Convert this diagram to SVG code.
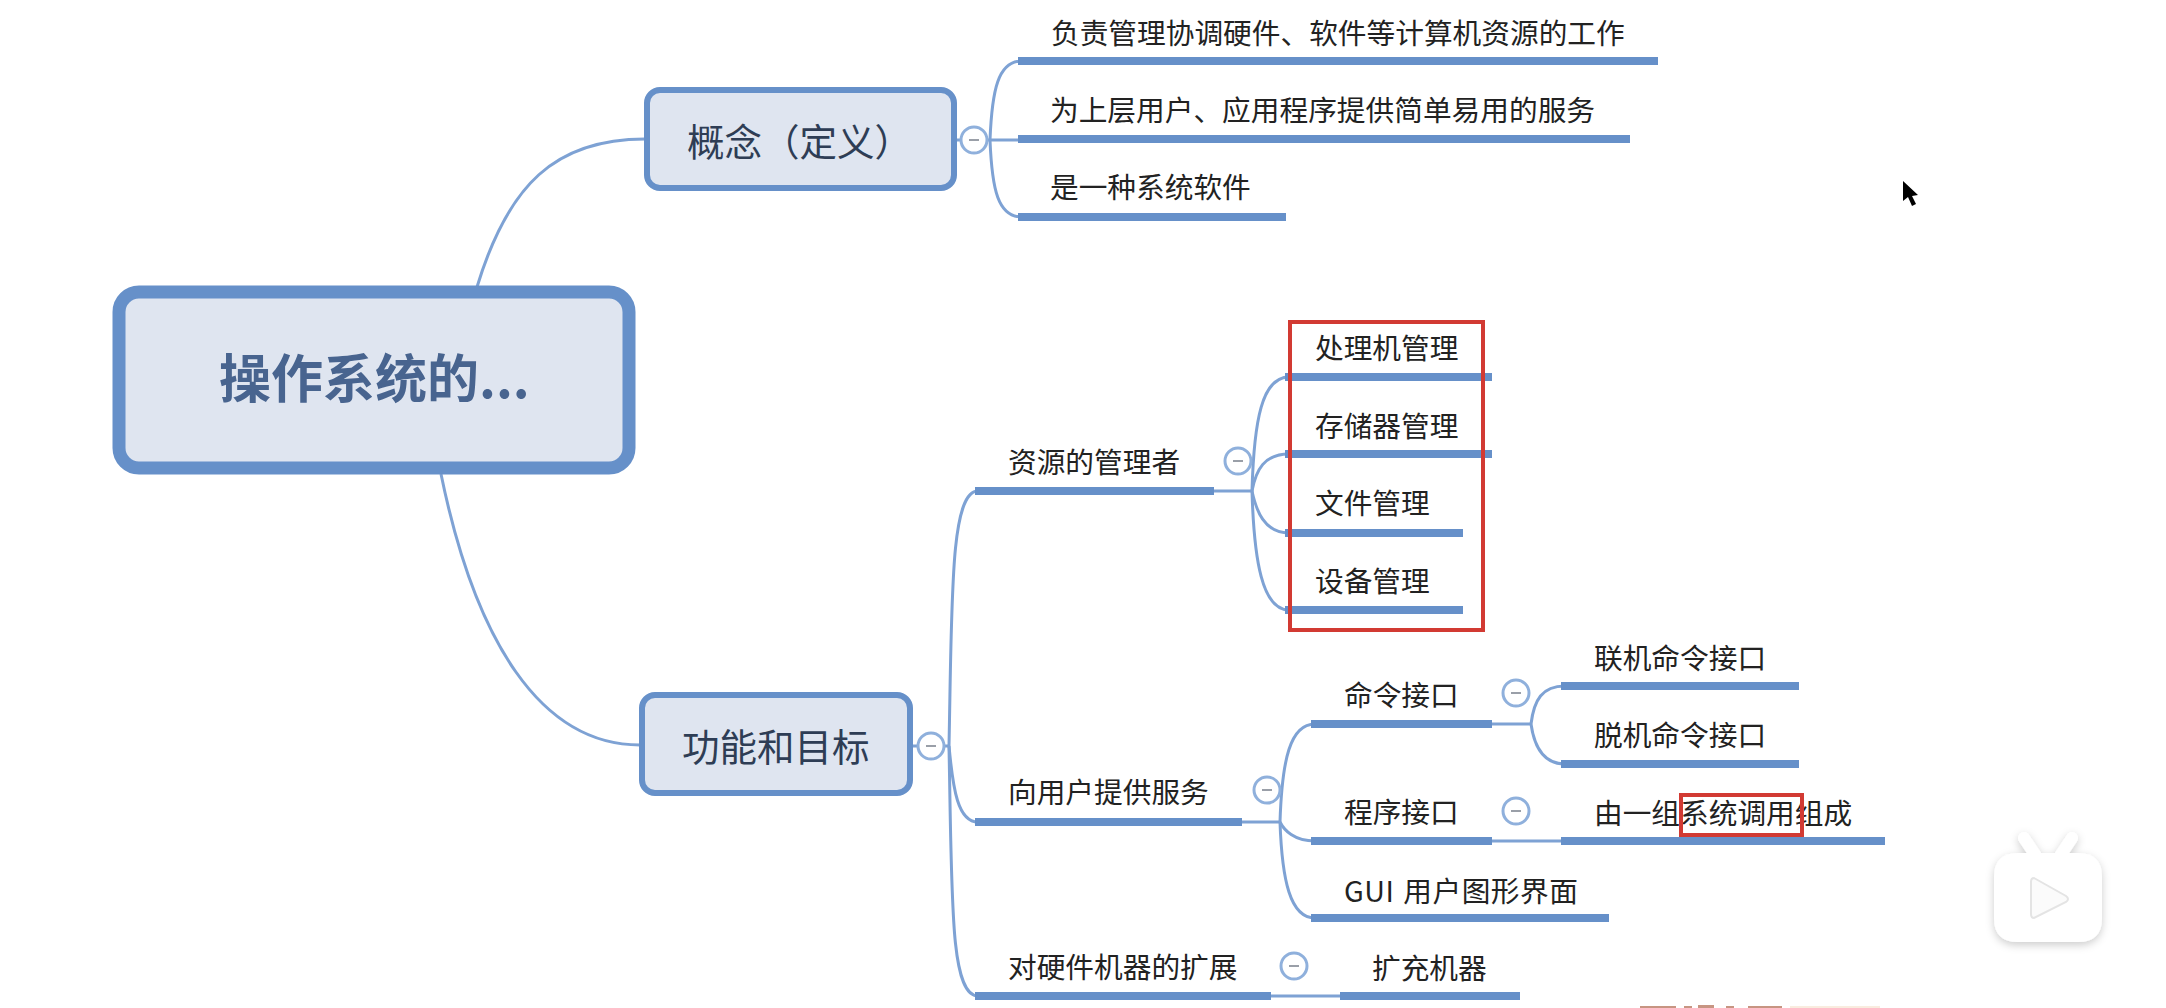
<svg xmlns="http://www.w3.org/2000/svg" width="2166" height="1008" viewBox="0 0 2166 1008">
<defs>
<style>
text{font-family:"Noto Sans CJK SC","Liberation Sans",sans-serif;fill:#222;font-size:28.7px}
.t1{font-size:37.5px;fill:#2e3d55}
.root{font-size:52px;font-weight:700;fill:#48648f}
.box{fill:#dfe5f0;stroke:#6690c9;stroke-width:6}
.c{fill:none;stroke:#7ea2d4;stroke-width:3}
.u{fill:none;stroke:#6690c9;stroke-width:8}
.cir{fill:#fff;stroke:#8fb0dc;stroke-width:3}
.min{stroke:#9a9fa8;stroke-width:2}
.red{fill:none;stroke:#d23a33;stroke-width:4}
</style>
<filter id="sh" x="-30%" y="-30%" width="160%" height="160%"><feDropShadow dx="0" dy="3" stdDeviation="4" flood-color="#000" flood-opacity=".2"/></filter>
<g id="col"><circle class="cir" r="13"/><path class="min" d="M-5 0H5"/></g>
</defs>
<rect width="2166" height="1008" fill="#fff"/>
<g id="connectors">
<path class="c" d="M477 287C508 185 555 139 645 139"/>
<path class="c" d="M441 474C475 640 540 745 640 745"/>
<path class="c" d="M956 140H1018"/>
<path class="c" d="M990 140C992 90 998 61 1022 61"/>
<path class="c" d="M990 140C992 190 998 217 1022 217"/>
<path class="c" d="M913 746H949"/>
<path class="c" d="M949 746C952 600 950 491 978 491"/>
<path class="c" d="M949 746C953 790 958 822 978 822"/>
<path class="c" d="M949 746C952 900 950 996 978 996"/>
<path class="c" d="M1214 491H1252"/>
<path class="c" d="M1252 491C1254 420 1262 377 1289 377"/>
<path class="c" d="M1252 491C1256 470 1264 454 1289 454"/>
<path class="c" d="M1252 491C1256 510 1264 533 1289 533"/>
<path class="c" d="M1252 491C1254 560 1262 610 1289 610"/>
<path class="c" d="M1242 822H1280"/>
<path class="c" d="M1280 822C1282 760 1290 724 1315 724"/>
<path class="c" d="M1280 822C1284 830 1294 841 1315 841"/>
<path class="c" d="M1280 822C1282 880 1290 918 1315 918"/>
<path class="c" d="M1492 724H1531"/>
<path class="c" d="M1531 724C1534 700 1542 686 1565 686"/>
<path class="c" d="M1531 724C1534 745 1542 764 1565 764"/>
<path class="c" d="M1492 841H1561"/>
<path class="c" d="M1271 996H1340"/>
</g>
<g id="root"><rect x="119" y="292" width="510" height="176" rx="20" fill="#dfe5f0" stroke="#6690c9" stroke-width="13"/><text class="root" x="219" y="398">操作系统的...</text></g>
<g id="concept"><rect class="box" x="647" y="90" width="307" height="98" rx="13"/><text class="t1" x="687" y="156">概念（定义）</text></g>
<use id="col-concept" href="#col" x="974" y="140"/>
<g id="c1"><path class="u" d="M1018 61H1658"/><text x="1051" y="44">负责管理协调硬件、软件等计算机资源的工作</text></g>
<g id="c2"><path class="u" d="M1018 139H1630"/><text x="1050" y="121">为上层用户、应用程序提供简单易用的服务</text></g>
<g id="c3"><path class="u" d="M1018 217H1286"/><text x="1050" y="198">是一种系统软件</text></g>
<g id="func"><rect class="box" x="642" y="695" width="268" height="98" rx="13"/><text class="t1" x="682" y="761">功能和目标</text></g>
<use id="col-func" href="#col" x="931" y="746"/>
<g id="r1"><path class="u" d="M975 491H1214"/><text x="1008" y="473">资源的管理者</text></g>
<use href="#col" x="1238" y="461"/>
<g id="r11"><path class="u" d="M1285 377H1492"/><text x="1315" y="359">处理机管理</text></g>
<g id="r12"><path class="u" d="M1285 454H1492"/><text x="1315" y="437">存储器管理</text></g>
<g id="r13"><path class="u" d="M1285 533H1463"/><text x="1315" y="514">文件管理</text></g>
<g id="r14"><path class="u" d="M1285 610H1463"/><text x="1315" y="592">设备管理</text></g>
<rect class="red" x="1290" y="322" width="193" height="308"/>
<g id="r2"><path class="u" d="M975 822H1242"/><text x="1008" y="803">向用户提供服务</text></g>
<use href="#col" x="1267" y="790"/>
<g id="r21"><path class="u" d="M1311 724H1492"/><text x="1344" y="706">命令接口</text></g>
<use href="#col" x="1516" y="693"/>
<g id="r211"><path class="u" d="M1561 686H1799"/><text x="1594" y="669">联机命令接口</text></g>
<g id="r212"><path class="u" d="M1561 764H1799"/><text x="1594" y="746">脱机命令接口</text></g>
<g id="r22"><path class="u" d="M1311 841H1492"/><text x="1344" y="823">程序接口</text></g>
<use href="#col" x="1516" y="811"/>
<g id="r221"><path class="u" d="M1561 841H1885"/><text x="1594" y="824">由一组系统调用组成</text></g>
<rect class="red" x="1681" y="795" width="121" height="40"/>
<g id="r23"><path class="u" d="M1311 918H1609"/><text x="1344" y="902" letter-spacing=".5" word-spacing="2">GUI 用户图形界面</text></g>
<g id="r3"><path class="u" d="M975 996H1271"/><text x="1008" y="978">对硬件机器的扩展</text></g>
<use href="#col" x="1294" y="966"/>
<g id="r31"><path class="u" d="M1340 996H1520"/><text x="1372" y="979">扩充机器</text></g>
<path id="cursor" d="M1903 181V201L1908 197L1912 206L1916 204L1912 196L1918 195Z" fill="#000"/>
<g id="logo" filter="url(#sh)" fill="#fff">
<path d="M2024 838L2036 856M2072 838L2060 856" stroke="#fff" stroke-width="12" stroke-linecap="round"/>
<path d="M2018 853H2078Q2102 853 2102 877V918Q2102 942 2078 942H2018Q1994 942 1994 918V877Q1994 853 2018 853Z"/>
</g>
<path d="M2034 878L2066 896Q2070 899 2066 902L2034 918Q2031 918 2031 914V882Q2031 878 2034 878Z" fill="#fbfbfb" stroke="#e4e4e4" stroke-width="2"/>
<g id="bottom-edge" fill="#c79582">
<rect x="1640" y="1006" width="36" height="2"/><rect x="1684" y="1006" width="8" height="2"/><rect x="1698" y="1005" width="16" height="3"/><rect x="1726" y="1006" width="8" height="2"/><rect x="1748" y="1006" width="34" height="2"/>
</g>
<rect x="1790" y="1006" width="90" height="2" fill="#f9ecdf"/>
</svg>
